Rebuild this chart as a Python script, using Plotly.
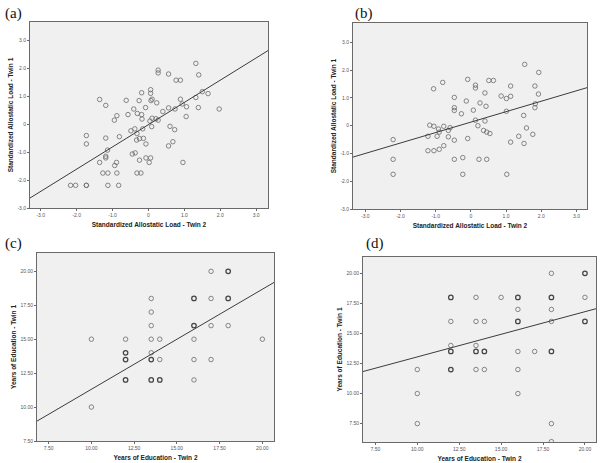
import numpy as np
import plotly.graph_objects as go

# ---------------- data ----------------
# Panel (a): Standardized allostatic load, Twin 2 (x) vs Twin 1 (y)
a_x = [1.32, 0.27, 0.27, 0.56, 1.40, 0.77, 0.89, 0.06, 0.06, -0.19, -1.36, -1.19, -0.62, -0.26,
       0.10, 0.07, 0.23, 1.32, 1.50, 1.66, 0.89, 0.94, 1.06, 1.39, 1.97, 0.56, 0.74, 0.40, 1.05,
       -0.08, -0.41, -0.31, -0.19, -0.88, -0.57, -0.95, -0.18, 0.10, 0.21, 0.27, 0.04, 0.09, 0.60,
       0.73, -0.38, -0.16, -0.49, -0.32, -0.81, -1.73, -1.19, -0.33, -0.25, -0.14, -0.07, 0.68,
       0.56, -1.73, -1.14, -0.45, -0.37, -1.19, -1.19, -0.07, 0.06, -0.25, -0.89, -1.36, 0.02,
       0.96, -0.94, -1.27, -1.13, -0.88, -0.32, -0.21, -2.17, -2.03, -1.73, -1.73, -1.13, -0.83]
a_y = [2.17, 1.93, 1.83, 1.79, 1.76, 1.57, 1.57, 1.23, 1.10, 1.12, 0.88, 0.67, 0.85, 0.84,
       0.89, 0.84, 0.76, 0.95, 1.16, 1.09, 0.89, 0.72, 0.62, 0.59, 0.54, 0.58, 0.54, 0.45, 0.27,
       0.59, 0.54, 0.38, 0.34, 0.30, 0.34, 0.14, 0.18, 0.21, 0.19, 0.14, 0.11, -0.09, -0.08,
       -0.20, -0.17, -0.17, -0.24, -0.34, -0.45, -0.41, -0.50, -0.57, -0.52, -0.51, -0.71, -0.63,
       -0.78, -0.71, -0.93, -1.07, -1.03, -1.15, -1.21, -1.21, -1.21, -1.29, -1.37, -1.37, -1.37,
       -1.37, -1.48, -1.75, -1.75, -1.75, -1.75, -1.75, -2.19, -2.19, -2.19, -2.19, -2.19, -2.19]
a_fit = (0.795, -0.02)  # slope, intercept

# Panel (b)
b_x = [1.53, 1.93, -0.09, -0.80, 0.51, 0.64, 0.13, 0.13, -1.06, 1.13, 1.82, 0.40, 1.92, -0.47,
       0.86, 1.01, 1.13, -0.13, 0.26, 1.83, 1.82, -0.47, -0.47, 0.07, 0.43, -0.27, 1.01, 1.50,
       0.13, 0.40, 0.20, -1.17, -1.05, -0.77, -0.92, -0.59, -0.64, -0.90, 1.58, 0.36, 0.45, 0.54,
       1.76, -1.22, -0.96, -0.64, 1.36, -0.09, -2.21, -0.47, 1.13, 1.51, -0.77, -1.22, -1.05,
       -0.90, -0.23, -2.21, -0.47, 0.23, 0.45, -2.21, -0.23, 1.02]
b_y = [2.21, 1.92, 1.67, 1.56, 1.63, 1.63, 1.46, 1.36, 1.33, 1.43, 1.43, 1.18, 1.14, 1.02,
       1.07, 0.98, 1.06, 0.89, 0.82, 0.79, 0.65, 0.65, 0.55, 0.56, 0.70, 0.43, 0.52, 0.37,
       0.20, 0.17, 0.00, 0.02, -0.02, -0.02, -0.12, -0.07, -0.17, -0.23, -0.08, -0.17, -0.23, -0.28,
       -0.31, -0.38, -0.38, -0.40, -0.38, -0.46, -0.50, -0.52, -0.59, -0.64, -0.72, -0.90, -0.90,
       -0.85, -1.15, -1.21, -1.21, -1.21, -1.21, -1.75, -1.75, -1.75]
b_fit = (0.376, 0.13)

# Panel (c): Years of education, Twin 2 (x) vs Twin 1 (y); n = overlapping pairs
c_x = [17, 18, 13.5, 16, 17, 18, 13.5, 13.5, 16, 17, 18, 10, 12, 13.5, 14, 16, 20,
       12, 13.5, 12, 13.5, 14, 16, 17, 12, 13.5, 14, 16, 10]
c_y = [20, 20, 18, 18, 18, 18, 17, 16, 16, 16, 16, 15, 15, 15, 15, 15, 15,
       14, 14, 13.5, 13.5, 13.5, 13.5, 13.5, 12, 12, 12, 12, 10]
c_n = [1, 2, 1, 2, 1, 2, 1, 1, 2, 1, 1, 1, 1, 1, 1, 1, 1,
       2, 1, 2, 2, 1, 1, 1, 2, 2, 2, 1, 1]
c_fit = (0.737, 3.94)

# Panel (d)
d_x = [18, 20, 12, 13.5, 15, 16, 18, 20, 16, 18, 12, 13.5, 14, 16, 18, 20,
       12, 13.5, 12, 13.5, 14, 16, 17, 18, 10, 12, 13.5, 14, 16, 10, 16, 10, 18, 18]
d_y = [20, 20, 18, 18, 18, 18, 18, 18, 17, 17, 16, 16, 16, 16, 16, 16,
       14, 14, 13.5, 13.5, 13.5, 13.5, 13.5, 13.5, 12, 12, 12, 12, 12, 10, 10, 7.5, 7.5, 6]
d_n = [1, 2, 2, 1, 1, 2, 2, 1, 1, 1, 1, 1, 1, 2, 1, 2,
       1, 1, 2, 2, 2, 1, 1, 2, 1, 2, 1, 1, 1, 1, 1, 1, 1, 1]
d_fit = (0.376, 9.29)

std_ticks = [-3, -2, -1, 0, 1, 2, 3]
std_labels = ["-3.0", "-2.0", "-1.0", "0", "1.0", "2.0", "3.0"]
edu_ticks = [7.5, 10, 12.5, 15, 17.5, 20]
edu_labels = ["7.50", "10.00", "12.50", "15.00", "17.50", "20.00"]

panel_letters = ["(a)", "(b)", "(c)", "(d)"]

# ---------------- figure ----------------
W, H = 600, 463
def px_x(p):
    return p / W
def px_y(p):
    return 1 - p / H

panels = [
    dict(x=a_x, y=a_y, n=None, fit=a_fit, xr=[-3.3, 3.33], yr=[-3.0, 3.65],
         ticks=std_ticks, labels=std_labels,
         xt="Standardized Allostatic Load - Twin 2", yt="Standardized Allostatic Load - Twin 1",
         dom_x=[px_x(30), px_x(268)], dom_y=[px_y(208), px_y(22)]),
    dict(x=b_x, y=b_y, n=None, fit=b_fit, xr=[-3.35, 3.3], yr=[-3.0, 3.7],
         ticks=std_ticks, labels=std_labels,
         xt="Standardized Allostatic Load - Twin 2", yt="Standardized Allostatic Load - Twin 1",
         dom_x=[px_x(353), px_x(587)], dom_y=[px_y(209), px_y(23)]),
    dict(x=c_x, y=c_y, n=c_n, fit=c_fit, xr=[6.82, 20.68], yr=[7.5, 21.35],
         ticks=edu_ticks, labels=edu_labels,
         xt="Years of Education - Twin 2", yt="Years of Education - Twin 1",
         dom_x=[px_x(37), px_x(274)], dom_y=[px_y(441), px_y(253)]),
    dict(x=d_x, y=d_y, n=d_n, fit=d_fit, xr=[6.76, 20.66], yr=[5.97, 21.36],
         ticks=edu_ticks, labels=edu_labels,
         xt="Years of Education - Twin 2", yt="Years of Education - Twin 1",
         dom_x=[px_x(363), px_x(596)], dom_y=[px_y(442), px_y(257)]),
]

FONT = "Liberation Sans, Arial, sans-serif"

fig = go.Figure()
layout = dict(
    width=W, height=H, margin=dict(l=0, r=0, t=0, b=0, autoexpand=False),
    paper_bgcolor="white", plot_bgcolor="#f0f0f0", showlegend=False, annotations=[],
    template="none",
)

for i, p in enumerate(panels):
    k = "" if i == 0 else str(i + 1)
    xa, ya = "x" + k, "y" + k
    n = p["n"] if p["n"] is not None else [1] * len(p["x"])
    widths = [0.8 if m == 1 else 1.25 for m in n]
    colors = ["#6a6a6a" if m == 1 else "#454545" for m in n]
    fig.add_trace(go.Scatter(
        x=p["x"], y=p["y"], mode="markers", xaxis=xa, yaxis=ya, cliponaxis=True,
        marker=dict(symbol="circle-open", size=4.5, color=colors,
                    line=dict(width=widths, color=colors)),
        hoverinfo="x+y",
    ))
    slope, icpt = p["fit"]
    lx = np.array(p["xr"])
    fig.add_trace(go.Scatter(
        x=lx, y=slope * lx + icpt, mode="lines", xaxis=xa, yaxis=ya,
        line=dict(color="#3c3c3c", width=1), hoverinfo="skip",
    ))
    common = dict(showgrid=False, zeroline=False, showline=True, linecolor="#6a6a6a",
                  linewidth=1, mirror=True, ticks="outside", ticklen=2, tickwidth=1,
                  tickcolor="#6a6a6a", tickfont=dict(family=FONT, size=5, color="#555"),
                  tickvals=p["ticks"], ticktext=p["labels"], fixedrange=True,
                  automargin=False)
    layout["xaxis" + k] = dict(common, domain=p["dom_x"], range=p["xr"], anchor=ya,
                               title=dict(text="<b>" + p["xt"] + "</b>", standoff=5,
                                          font=dict(family=FONT, size=6.5, color="#222")))
    layout["yaxis" + k] = dict(common, domain=p["dom_y"], range=p["yr"], anchor=xa,
                               title=dict(text="<b>" + p["yt"] + "</b>", standoff=3,
                                          font=dict(family=FONT, size=6.5, color="#222")))

letter_pos = [(3, 13), (353, 13), (3, 243), (364, 243)]
for lab, (lx, ly) in zip(panel_letters, letter_pos):
    layout["annotations"].append(dict(
        text=lab, x=px_x(lx), y=px_y(ly), xref="paper", yref="paper",
        xanchor="left", yanchor="middle", showarrow=False,
        font=dict(family="Liberation Serif", size=15, color="#111")))

fig.update_layout(**layout)
fig.write_html("out.html", config={"displayModeBar": False},
               post_script="document.body.style.margin='0';document.body.style.overflow='hidden';")
